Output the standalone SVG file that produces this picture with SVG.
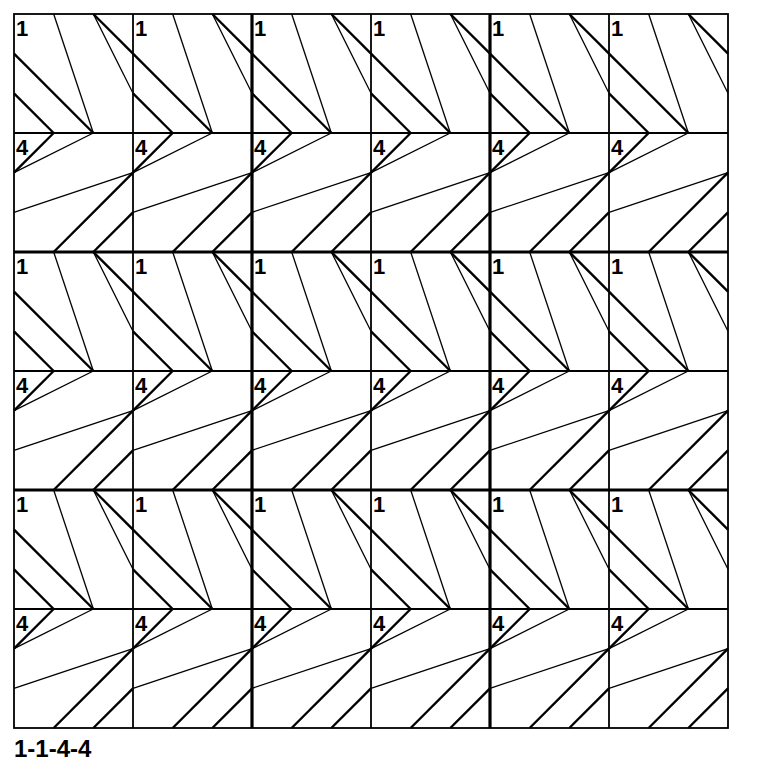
<svg xmlns="http://www.w3.org/2000/svg" xmlns:xlink="http://www.w3.org/1999/xlink" width="768" height="768" viewBox="0 0 768 768">
<style>
.thin{stroke:#000;stroke-width:1.3;fill:none}
.thick{stroke:#000;stroke-width:2.4;fill:none}
.grid{stroke:#000;stroke-width:1.8;fill:none}
.block{stroke:#000;stroke-width:3.2;fill:none}
</style>
<defs>
<g id="cell">
<line class="thin" x1="39.67" y1="0" x2="79.33" y2="119"/>
<line class="thick" x1="0" y1="39.67" x2="79.33" y2="119"/>
<line class="thick" x1="0" y1="79.33" x2="39.67" y2="119"/>
<line class="thick" x1="79.33" y1="0" x2="119" y2="39.67"/>
<line class="thin" x1="79.33" y1="0" x2="119" y2="79.33"/>
<line class="thick" x1="39.67" y1="119" x2="0" y2="158.67"/>
<line class="thin" x1="79.33" y1="119" x2="0" y2="158.67"/>
<line class="thin" x1="0" y1="198.33" x2="119" y2="158.67"/>
<line class="thick" x1="39.67" y1="238" x2="119" y2="158.67"/>
<line class="thick" x1="79.33" y1="238" x2="119" y2="198.33"/>
<text x="2" y="22" font-family="'Liberation Sans', Arial, sans-serif" font-weight="bold" font-size="22" fill="#000">1</text>
<text x="2" y="141" font-family="'Liberation Sans', Arial, sans-serif" font-weight="bold" font-size="22" fill="#000">4</text>
</g>
<g id="col">
<use xlink:href="#cell" x="0" y="0"/>
<use xlink:href="#cell" x="0" y="238"/>
<use xlink:href="#cell" x="0" y="476"/>
</g>
</defs>
<g id="pattern" transform="translate(14,14)">
<use xlink:href="#col" x="0"/>
<use xlink:href="#col" x="119"/>
<use xlink:href="#col" x="238"/>
<use xlink:href="#col" x="357"/>
<use xlink:href="#col" x="476"/>
<use xlink:href="#col" x="595"/>
</g>
<g id="grid">
<line class="grid" x1="133" y1="14" x2="133" y2="728"/>
<line class="grid" x1="371" y1="14" x2="371" y2="728"/>
<line class="grid" x1="609" y1="14" x2="609" y2="728"/>
<line class="grid" x1="14" y1="133" x2="728" y2="133"/>
<line class="grid" x1="14" y1="371" x2="728" y2="371"/>
<line class="grid" x1="14" y1="609" x2="728" y2="609"/>
<line class="block" x1="252" y1="14" x2="252" y2="728"/>
<line class="block" x1="490" y1="14" x2="490" y2="728"/>
<line class="block" x1="14" y1="252" x2="728" y2="252"/>
<line class="block" x1="14" y1="490" x2="728" y2="490"/>
<rect class="grid" x="14" y="14" width="714" height="714"/>
</g>
<text x="14" y="757" font-family="'Liberation Sans', Arial, sans-serif" font-weight="bold" font-size="24" fill="#000">1-1-4-4</text>
</svg>
